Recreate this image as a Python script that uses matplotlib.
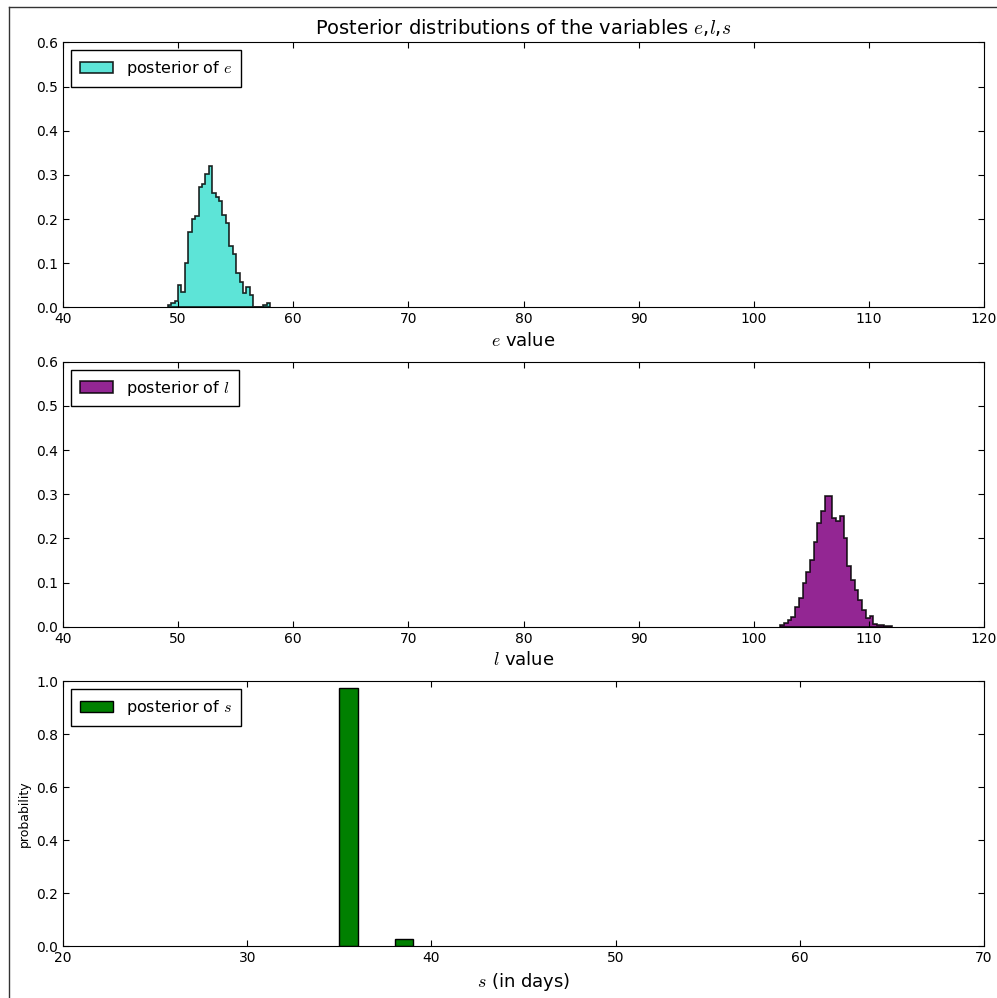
import matplotlib
matplotlib.use("Agg")
import matplotlib.pyplot as plt
import numpy as np
from matplotlib.lines import Line2D

plt.rcParams['mathtext.fontset'] = 'cm'
plt.rcParams['xtick.direction'] = 'in'
plt.rcParams['ytick.direction'] = 'in'
plt.rcParams['xtick.top'] = True
plt.rcParams['ytick.right'] = True
plt.rcParams['font.size'] = 10

# posterior of e: 30 bins between 49.1 and 58.0
e_edges = np.linspace(49.1, 58.0, 31)
e_heights = [0.005, 0.010, 0.015, 0.050, 0.035, 0.100, 0.170, 0.200, 0.208, 0.272,
             0.280, 0.303, 0.320, 0.258, 0.250, 0.240, 0.210, 0.190, 0.140, 0.120,
             0.077, 0.057, 0.032, 0.046, 0.027, 0.0, 0.0, 0.0, 0.005, 0.010]

# posterior of l: 30 bins between 102.3 and 112.0
l_edges = np.linspace(102.3, 112.0, 31)
l_heights = [0.004, 0.008, 0.016, 0.023, 0.045, 0.065, 0.100, 0.125, 0.152, 0.193,
             0.235, 0.262, 0.297, 0.295, 0.246, 0.240, 0.250, 0.200, 0.137, 0.106,
             0.084, 0.061, 0.038, 0.020, 0.025, 0.007, 0.004, 0.003, 0.001, 0.001]

# posterior of s
s_values = [35, 38]
s_probs = [0.975, 0.025]

fig = plt.figure(figsize=(9.97, 9.98), dpi=100)
left, width = 0.0632, 0.9238
ax1 = fig.add_axes([left, 0.692, width, 0.2655])
ax2 = fig.add_axes([left, 0.372, width, 0.2655])
ax3 = fig.add_axes([left, 0.052, width, 0.2655])

e_centers = (e_edges[:-1] + e_edges[1:]) / 2
ax1.hist(e_centers, bins=e_edges, weights=e_heights, histtype='stepfilled',
         color='turquoise', edgecolor='black', alpha=0.85, lw=1.2,
         label='posterior of $e$')
ax1.set_xlim(40, 120)
ax1.set_ylim(0, 0.6)
ax1.set_xlabel('$e$ value', fontsize=13)
ax1.set_title('Posterior distributions of the variables $e$,$l$,$s$', fontsize=14)

l_centers = (l_edges[:-1] + l_edges[1:]) / 2
ax2.hist(l_centers, bins=l_edges, weights=l_heights, histtype='stepfilled',
         color='purple', edgecolor='black', alpha=0.85, lw=1.2,
         label='posterior of $l$')
ax2.set_xlim(40, 120)
ax2.set_ylim(0, 0.6)
ax2.set_xlabel('$l$ value', fontsize=13)

ax3.bar(s_values, s_probs, width=1, align='edge', color='green',
        edgecolor='black', lw=1, label='posterior of $s$')
ax3.set_xlim(20, 70)
ax3.set_ylim(0, 1.0)
ax3.set_xlabel('$s$ (in days)', fontsize=13)
ax3.set_ylabel('probability', fontsize=9)

for ax in (ax1, ax2, ax3):
    leg = ax.legend(loc='upper left', fancybox=False, fontsize=11.5,
                    framealpha=1, borderaxespad=0.5, borderpad=0.55,
                    handlelength=2.1)
    leg.get_frame().set_edgecolor('black')
    ax.tick_params(length=4, labelsize=10)
ax1.set_yticks(np.arange(0, 0.61, 0.1))
ax2.set_yticks(np.arange(0, 0.61, 0.1))

# screenshot frame lines
fig.add_artist(Line2D([0.009, 0.009], [0, 0.9927], color='#333333', lw=1))
fig.add_artist(Line2D([0.009, 1], [0.9927, 0.9927], color='#333333', lw=1))

fig.savefig('out.png', dpi=100, facecolor='white')
